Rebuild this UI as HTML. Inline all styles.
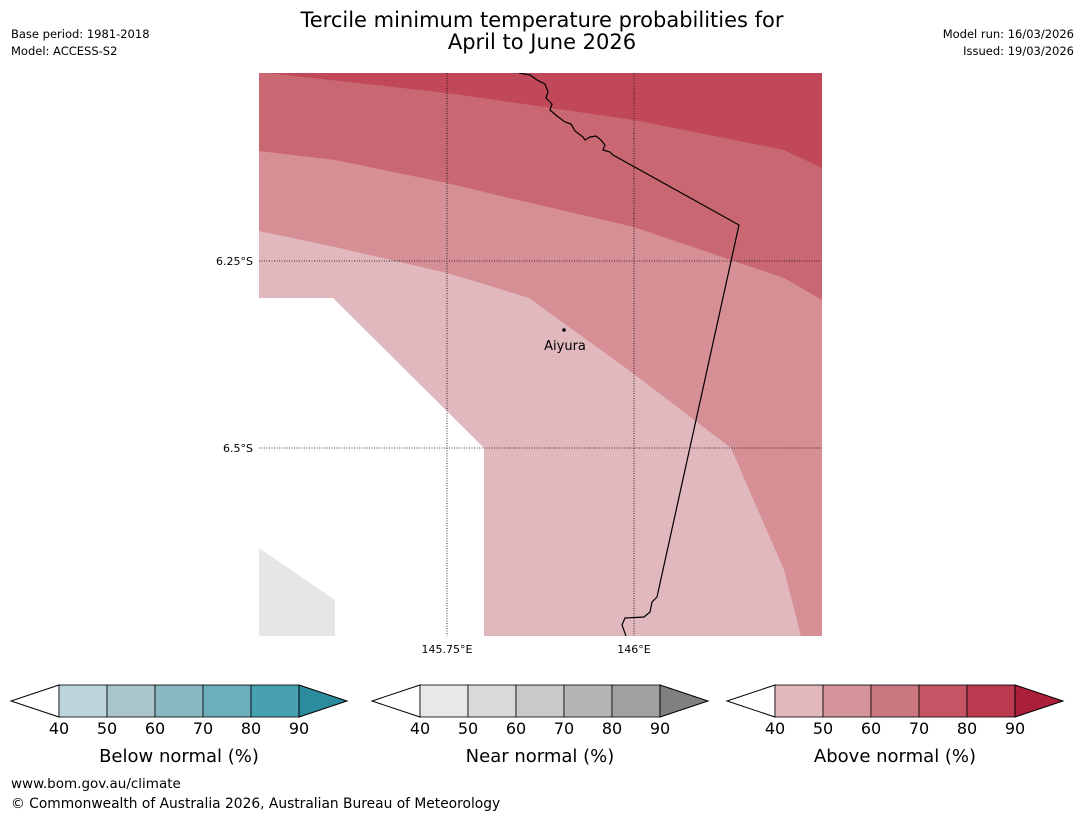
<!DOCTYPE html>
<html><head><meta charset="utf-8"><style>
body{margin:0;background:#fff;width:1085px;height:816px;overflow:hidden;font-family:"Liberation Sans","DejaVu Sans",sans-serif}
</style></head><body>
<svg width="1085" height="816" viewBox="0 0 1085 816" style="font-family:'DejaVu Sans','Liberation Sans',sans-serif">
<text x="542" y="27" font-size="21" text-anchor="middle">Tercile minimum temperature probabilities for</text>
<text x="542" y="49" font-size="21" text-anchor="middle">April to June 2026</text>
<text x="11" y="38" font-size="11.5">Base period: 1981-2018</text>
<text x="11" y="55" font-size="11.5">Model: ACCESS-S2</text>
<text x="1074" y="38" font-size="11.5" text-anchor="end">Model run: 16/03/2026</text>
<text x="1074" y="55" font-size="11.5" text-anchor="end">Issued: 19/03/2026</text>
<g>
<clipPath id="mc"><rect x="259" y="73" width="563" height="563"/></clipPath>
<g clip-path="url(#mc)">
<rect x="259" y="73" width="563" height="563" fill="#e0b8bd"/>
<polygon points="259,73 822,73 822,636 801,636 784,570 731,448 634,374 529,298 484,284 447,273 335,247 259,231" fill="#d58f95"/>
<polygon points="259,73 822,73 822,300 784,278 634,227 484,192 447,183 335,160 259,151" fill="#c96872"/>
<polygon points="259,72 822,73 822,168 784,150 634,120 447,93" fill="#c04858"/>
<polygon points="259,298 333,298 484,448 484,636 259,636" fill="#fff"/>
<polygon points="259,548 335,600 335,636 259,636" fill="#e6e6e6"/>
<path d="M519,73 L530,75 L537,80 L545,84 L548,92 L546,98 L552,104 L550,110 L557,116 L565,122 L571,124 L575,131 L583,137 L585,140 L590,137 L596,136 L601,140 L605,145 L603,150 L610,152 L613,155 L739,225 L657,597 L652,602 L650,612 L644,617 L625,618 L622,625 L626,636" fill="none" stroke="#000" stroke-width="1.2"/>
<g stroke="#000" stroke-width="0.8" stroke-dasharray="1,1.5">
<line x1="447" y1="73" x2="447" y2="636"/><line x1="634" y1="73" x2="634" y2="636"/>
<line x1="259" y1="261" x2="822" y2="261"/><line x1="259" y1="448" x2="822" y2="448"/>
</g>
<circle cx="564" cy="330" r="1.8" fill="#000"/>
<text x="565" y="350" font-size="13" text-anchor="middle">Aiyura</text>
</g>
</g>
<text x="253" y="265" font-size="11" text-anchor="end">6.25°S</text>
<text x="253" y="452" font-size="11" text-anchor="end">6.5°S</text>
<text x="447" y="653" font-size="11" text-anchor="middle">145.75°E</text>
<text x="634" y="653" font-size="11" text-anchor="middle">146°E</text>
<g id="cbs"></g>
<text x="11" y="788" font-size="13.5">www.bom.gov.au/climate</text>
<text x="11" y="808" font-size="13.8">© Commonwealth of Australia 2026, Australian Bureau of Meteorology</text>
</svg>
<script>
const ticks=[40,50,60,70,80,90];
const belowColors=["#bdd4da","#a7c5ca","#89b8c3","#6caebb","#48a1b0","#2b8c9e"];
const nearColors=["#e8e8e8","#d9d9d9","#c9c9c9","#b5b5b5","#a0a0a0","#808080"];
const aboveColors=["#e0b8bd","#d5939a","#cb777f","#c55565","#bb3a4f","#ac1f3a"];
const bars=[{x:59,c:belowColors,l:"Below normal (%)",n:"below"},{x:420,c:nearColors,l:"Near normal (%)",n:"near"},{x:775,c:aboveColors,l:"Above normal (%)",n:"above"}];
const g=document.getElementById('cbs');const NS="http://www.w3.org/2000/svg";
function mk(t,a){const e=document.createElementNS(NS,t);for(const k in a)e.setAttribute(k,a[k]);return e;}
bars.forEach(b=>{
 const grp=mk('g',{});
 
 
 const w=48,y0=685,h=32,sx=b.x;
 const lt=mk('polygon',{points:`${sx},${y0} ${sx-48},${y0+h/2} ${sx},${y0+h}`,fill:'#fff',stroke:'#000','stroke-width':1});
 grp.appendChild(lt);
 for(let i=0;i<5;i++){
  const r=mk('rect',{x:sx+i*w,y:y0,width:w,height:h,fill:b.c[i],stroke:'#000','stroke-width':0.8});
  
  
  grp.appendChild(r);
 }
 const rt=mk('polygon',{points:`${sx+240},${y0} ${sx+288},${y0+h/2} ${sx+240},${y0+h}`,fill:b.c[5],stroke:'#000','stroke-width':1});
 grp.appendChild(rt);
 ticks.forEach((t,i)=>{const tx=mk('text',{x:sx+i*w,y:734,'font-size':16,'text-anchor':'middle'});tx.textContent=t;
  
  
  grp.appendChild(tx);});
 const lb=mk('text',{x:sx+120,y:762,'font-size':18,'text-anchor':'middle'});lb.textContent=b.l;
 
 
 grp.appendChild(lb);
 g.appendChild(grp);
});
</script>
</body></html>
